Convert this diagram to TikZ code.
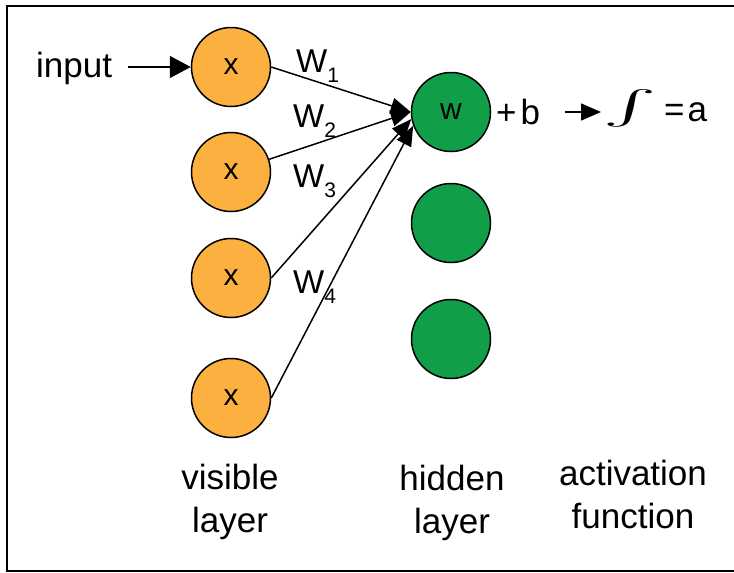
\documentclass[tikz,border=0pt]{standalone}
\usepackage{fontspec}
\setmainfont{Liberation Sans}
\usetikzlibrary{arrows.meta}
\definecolor{vis}{RGB}{251,176,64}
\definecolor{hid}{RGB}{16,158,72}
\begin{document}
\begin{tikzpicture}[x=1pt,y=-1pt,
  unit/.style={circle,draw=black,line width=1.5pt,minimum size=79pt,inner sep=0pt,font=\fontsize{30}{36}\selectfont},
  vnode/.style={unit,fill=vis},
  hnode/.style={unit,fill=hid},
  lbl/.style={font=\fontsize{35}{42}\selectfont,inner sep=0pt,anchor=base},
  wlbl/.style={font=\fontsize{33}{40}\selectfont,inner sep=0pt,anchor=base west},
  conn/.style={line width=1.5pt,-{Triangle[length=20pt,width=16pt]}},
]
\useasboundingbox (0,0) rectangle (734,573);
\draw[line width=2.5pt] (736,6) -- (7,6) -- (7,571) -- (736,571);

\node[vnode] (v1) at (231,67) {x};
\node[vnode] (v2) at (231,172) {x};
\node[vnode] (v3) at (231,278) {x};
\node[vnode] (v4) at (231,398) {x};
\node[hnode] (h1) at (451,112) {w};
\node[hnode] (h2) at (451,223) {};
\node[hnode] (h3) at (451,339) {};

\node[lbl,anchor=base west] (in) at (36,77) {input};
\coordinate (inS) at (128,67);
\draw[line width=1.5pt,-{Triangle[length=21pt,width=22pt]}] (inS) -- (v1.west);

\draw[conn] (v1.east) -- (h1.west);
\draw[conn] (v2) -- (h1.west);
\draw[conn] (v3.east) -- (h1.190);
\draw[conn] (v4.east) -- (h1.200);

\newcommand{\wsub}[1]{\raisebox{-10pt}{\fontsize{21}{25}\selectfont #1}}
\node[wlbl] (w1) at (296,72) {W\wsub{1}};
\node[wlbl] (w2) at (293,127) {W\wsub{2}};
\node[wlbl] (w3) at (293,187) {W\wsub{3}};
\node[wlbl] (w4) at (293,293) {W\wsub{4}};

\node[lbl,anchor=base west] (b) at (496,124) {+\kern4pt b};
\coordinate (aS) at (565,112);
\coordinate (aE) at (601,112);
\draw[line width=1.5pt,-{Triangle[length=20pt,width=17pt]}] (aS) -- (aE);
\node[inner sep=0pt] (int) at (630,108) {\scalebox{8}[3.4]{$\int$}};
\node[lbl,anchor=base west] (eqa) at (664,121) {=\kern3pt a};

\node[lbl] (vis1) at (230,489) {visible};
\node[lbl] (vis2) at (230,532) {layer};
\node[lbl] (hid1) at (452,490) {hidden};
\node[lbl] (hid2) at (452,533) {layer};
\node[lbl] (act1) at (633,485) {activation};
\node[lbl] (act2) at (633,528) {function};
\end{tikzpicture}
\end{document}
